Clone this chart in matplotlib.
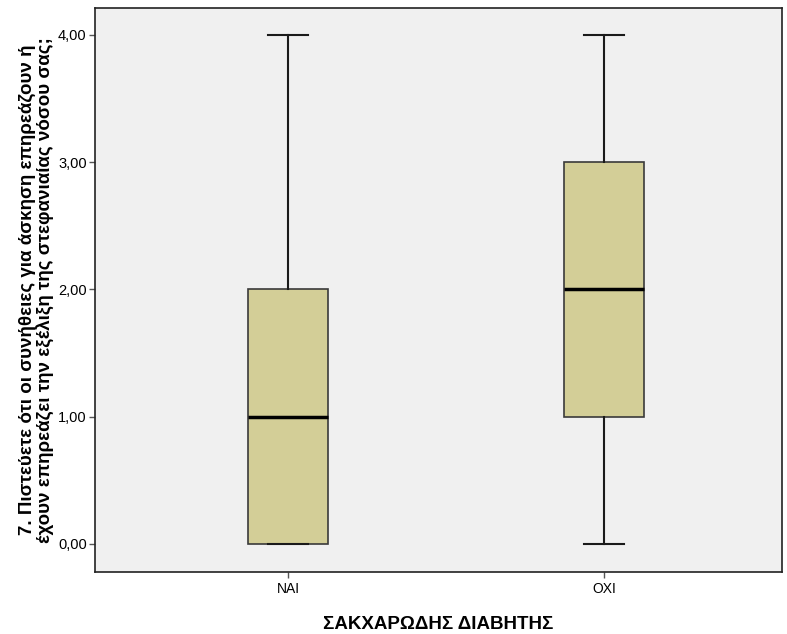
import matplotlib
matplotlib.use("Agg")
import matplotlib.pyplot as plt

categories = ["ΝΑΙ", "ΟΧΙ"]
whislo = [0.0, 0.0]
q1 = [0.0, 1.0]
med = [1.0, 2.0]
q3 = [2.0, 3.0]
whishi = [4.0, 4.0]
yticks = [0, 1, 2, 3, 4]
yticklabels = ["0,00", "1,00", "2,00", "3,00", "4,00"]

plt.rcParams['font.family'] = ['Liberation Sans', 'DejaVu Sans']

fig = plt.figure(figsize=(7.87, 6.34), dpi=100)
ax = fig.add_axes([95/787, 62/634, 687/787, 564/634])
ax.set_facecolor("#F0F0F0")

stats = []
for i, c in enumerate(categories):
    stats.append(dict(label=c, whislo=whislo[i], q1=q1[i], med=med[i], q3=q3[i],
                      whishi=whishi[i], fliers=[]))
positions = [1, 2]
ax.bxp(stats, positions=positions, widths=0.253, capwidths=0.127, patch_artist=True,
       showfliers=False,
       boxprops=dict(facecolor="#D3CE97", edgecolor="#3a3a3a", linewidth=1.2),
       medianprops=dict(color="black", linewidth=2.5),
       whiskerprops=dict(color="#1a1a1a", linewidth=1.5),
       capprops=dict(color="#1a1a1a", linewidth=1.5))

ax.set_xlim(0.389, 2.563)
ax.set_ylim(-0.22, 4.21)
ax.set_yticks(yticks)
ax.set_yticklabels(yticklabels, fontsize=10.5)
ax.set_xticks(positions)
ax.set_xticklabels(categories, fontsize=10)
ax.tick_params(axis='both', length=4, width=1, color="#555555")
ax.tick_params(axis='y', pad=2)
for s in ax.spines.values():
    s.set_linewidth(1.2)
    s.set_color("#222222")

ax.set_xlabel("ΣΑΚΧΑΡΩΔΗΣ ΔΙΑΒΗΤΗΣ", fontsize=13.5, fontweight="bold", labelpad=14)
ax.set_ylabel("7. Πιστεύετε ότι οι συνήθειες για άσκηση επηρεάζουν ή\nέχουν επηρεάζει την εξέλιξη της στεφανιαίας νόσου σας;",
              fontsize=13.5, fontweight="bold", labelpad=3, linespacing=0.95)

fig.savefig("out.png", dpi=100)
